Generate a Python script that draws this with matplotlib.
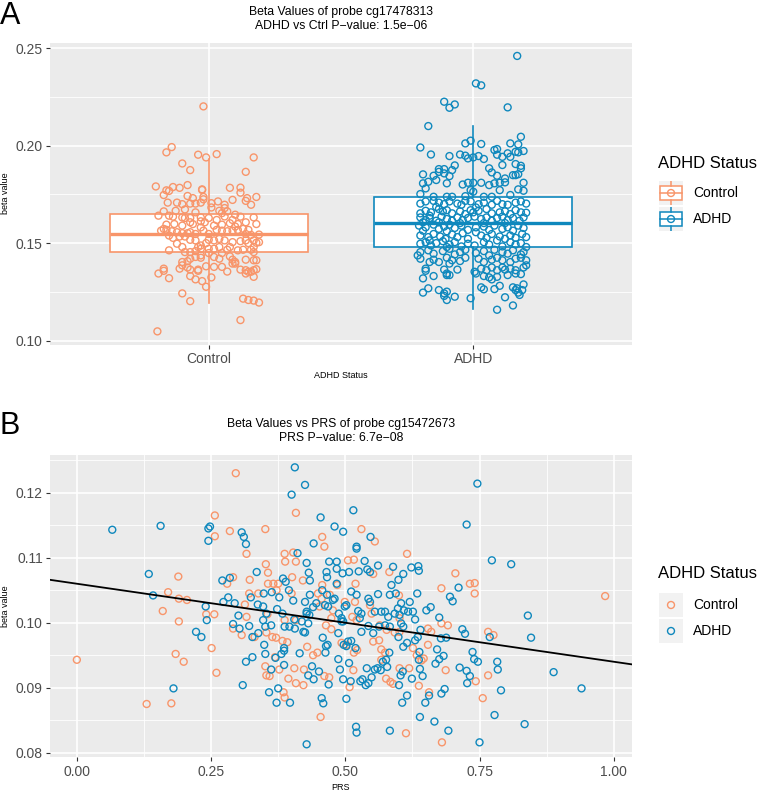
import matplotlib.pyplot as plt
import numpy as np
from matplotlib.patches import Rectangle

plt.rcParams['font.family'] = ['Liberation Sans', 'DejaVu Sans']

status = ['Control', 'ADHD']
colors = ['#F8956A', '#0F88BD']

# ---- panel A: box stats + jittered points (x = jittered group position) ----
box_q1 = [0.1454, 0.1480]
box_med = [0.1548, 0.1605]
box_q3 = [0.1650, 0.1739]
box_lo = [0.1195, 0.1161]
box_hi = [0.1930, 0.2101]

ctrl_points = [
    (0.98, 0.2202), (0.86, 0.1993), (0.84, 0.1966), (0.96, 0.1954), (0.99, 0.1940), (1.03, 0.1957),
    (1.17, 0.1940), (0.90, 0.1909), (0.93, 0.1875), (1.14, 0.1866), (0.80, 0.1791), (0.89, 0.1784),
    (0.975, 0.1776), (1.08, 0.1784),
    (1.12, 0.1785), (1.12, 0.1759), (0.975, 0.1773), (0.92, 0.1798), (0.865, 0.1788), (0.84, 0.1771),
    (0.83, 0.1747), (0.85, 0.1768), (0.92, 0.1742), (0.94, 0.1731), (0.98, 0.1737), (0.98, 0.1725),
    (1.145, 0.1731), (1.18, 0.1737), (1.16, 0.1697), (1.14, 0.1717), (1.09, 0.1722), (1.035, 0.1714),
    (1.01, 0.1705), (1.06, 0.1697), (1.06, 0.1680), (1.07, 0.1663), (1.05, 0.1654), (1.04, 0.1666),
    (1.01, 0.1683), (0.97, 0.1708), (0.95, 0.1703), (0.93, 0.1703), (0.90, 0.1700), (0.88, 0.1708),
    (0.845, 0.1708), (0.83, 0.1663), (0.81, 0.1641), (0.85, 0.1641), (0.875, 0.1666), (0.91, 0.1673),
    (0.90, 0.1632), (0.865, 0.1636), (0.91, 0.1629), (0.93, 0.1629), (0.95, 0.1658), (0.97, 0.1632),
    (1.00, 0.1629), (1.03, 0.1619), (1.06, 0.1637), (1.09, 0.1619), (1.10, 0.1646), (1.12, 0.1636),
    (1.17, 0.1632), (1.18, 0.1598), (1.14, 0.1607), (1.11, 0.1598), (1.10, 0.1585), (1.08, 0.1602),
    (1.05, 0.1595), (1.02, 0.1590), (0.985, 0.1607), (0.97, 0.1612), (0.94, 0.1598), (0.93, 0.1607),
    (0.90, 0.1590), (0.87, 0.1598), (0.84, 0.1595), (0.82, 0.1564), (0.83, 0.1573), (0.84, 0.1568),
    (0.86, 0.1561), (0.88, 0.1556), (0.90, 0.1551), (0.92, 0.1551), (0.93, 0.1556), (0.95, 0.1547),
    (0.97, 0.1581), (0.98, 0.1564), (1.00, 0.1547), (1.03, 0.1568), (1.05, 0.1564), (1.07, 0.1561),
    (1.09, 0.1564), (1.11, 0.1568), (1.13, 0.1573), (1.15, 0.1568), (1.14, 0.1547), (1.16, 0.1542),
    (1.19, 0.1544), (1.18, 0.1502), (1.19, 0.1505), (1.17, 0.1514), (1.14, 0.1514), (1.12, 0.1510),
    (1.09, 0.1505), (1.06, 0.1514), (1.04, 0.1522), (1.02, 0.1514), (1.00, 0.1517), (0.99, 0.1500),
    (0.97, 0.1488), (0.96, 0.1480), (0.95, 0.1514), (0.93, 0.1517), (0.91, 0.1534), (0.89, 0.1534),
    (0.865, 0.1527), (0.85, 0.1539), (0.88, 0.1497), (0.90, 0.1480), (0.91, 0.1454), (0.93, 0.1454),
    (0.95, 0.1459), (0.97, 0.1471), (1.00, 0.1471), (1.02, 0.1471), (1.04, 0.1480), (1.07, 0.1466),
    (1.08, 0.1480), (1.11, 0.1463), (1.13, 0.1466), (1.16, 0.1466), (1.17, 0.1454), (1.17, 0.1480),
    (1.15, 0.1500), (0.85, 0.1463), (0.90, 0.1403), (0.92, 0.1407), (0.90, 0.1386), (0.93, 0.1420),
    (0.95, 0.1429), (0.97, 0.1437), (0.97, 0.1425), (1.00, 0.1449), (1.02, 0.1429), (1.04, 0.1420),
    (1.05, 0.1449), (1.08, 0.1432), (1.09, 0.1415), (1.10, 0.1395), (1.10, 0.1403), (1.14, 0.1415),
    (1.17, 0.1412), (1.18, 0.1412), (0.89, 0.1369), (0.92, 0.1375), (0.93, 0.1364), (0.96, 0.1364),
    (0.96, 0.1358), (0.99, 0.1381), (1.02, 0.1378), (1.05, 0.1378), (1.07, 0.1354), (1.09, 0.1395),
    (1.12, 0.1364), (1.14, 0.1361), (1.15, 0.1353), (1.17, 0.1361), (1.18, 0.1366), (0.83, 0.1369),
    (0.81, 0.1344), (0.83, 0.1358), (0.85, 0.1320), (0.93, 0.1331), (0.95, 0.1314), (0.975, 0.1305),
    (0.99, 0.1276), (1.01, 0.1324), (1.14, 0.1344), (1.16, 0.1353), (1.17, 0.1327), (0.90, 0.1242),
    (0.93, 0.1202), (1.13, 0.1215), (1.15, 0.1208), (1.17, 0.1205), (1.19, 0.1195), (1.12, 0.1105),
    (0.806, 0.1047),
]

adhd_points = [
    (2.166, 0.2461), (2.01, 0.2320), (2.03, 0.2310), (1.89, 0.2226), (1.93, 0.2212), (1.91, 0.2195),
    (2.13, 0.2197), (1.83, 0.2101), (2.18, 0.2046), (1.97, 0.2012), (1.99, 0.2026), (2.03, 0.2009),
    (1.80, 0.1991), (1.84, 0.1955), (2.14, 0.2012), (2.17, 0.2007), (2.08, 0.1978), (2.09, 0.1983),
    (2.19, 0.1973), (2.17, 0.1966), (2.16, 0.1969), (2.13, 0.1961), (2.09, 0.1954), (2.11, 0.1943),
    (2.14, 0.1943), (1.91, 0.1947), (1.95, 0.1955), (1.97, 0.1949), (1.98, 0.1935), (2.00, 0.1940),
    (2.02, 0.1947), (2.04, 0.1932), (1.93, 0.1899), (2.11, 0.1901), (2.16, 0.1906), (2.18, 0.1897),
    (2.18, 0.1884), (1.87, 0.1880), (1.89, 0.1880), (1.92, 0.1875), (2.06, 0.1884), (2.07, 0.1863),
    (1.81, 0.1853), (1.85, 0.1846), (1.87, 0.1866), (1.89, 0.1858), (1.91, 0.1844), (2.09, 0.1846),
    (2.12, 0.1832), (2.15, 0.1849), (2.17, 0.1854), (2.16, 0.1849), (1.81, 0.1807), (1.83, 0.1815),
    (1.86, 0.1824), (1.90, 0.1807), (1.96, 0.1801), (1.98, 0.1810), (2.00, 0.1810), (2.03, 0.1810),
    (2.06, 0.1798), (2.08, 0.1807), (2.10, 0.1810), (2.12, 0.1812), (2.19, 0.1810), (1.82, 0.1781),
    (1.99, 0.1772), (2.00, 0.1764), (2.10, 0.1772), (2.17, 0.1776), (2.19, 0.1769), (1.80, 0.1752),
    (1.85, 0.1738), (1.90, 0.1738), (1.92, 0.1738), (1.97, 0.1741), (2.04, 0.1738), (2.07, 0.1738),
    (2.14, 0.1747),
    (1.80, 0.1703), (1.82, 0.1714), (1.85, 0.1717), (1.87, 0.1708), (1.89, 0.1700), (1.91, 0.1714),
    (1.94, 0.1703), (1.955, 0.1697), (1.97, 0.1717), (1.99, 0.1714), (2.02, 0.1700), (2.04, 0.1708),
    (2.07, 0.1697), (2.09, 0.1717), (2.11, 0.1700), (2.13, 0.1697), (2.16, 0.1708), (2.18, 0.1714),
    (2.20, 0.1703), (1.86, 0.1686), (2.01, 0.1683),
    (1.80, 0.1653), (1.82, 0.1666), (1.84, 0.1658), (1.87, 0.1675), (1.885, 0.1663), (1.90, 0.1669),
    (1.92, 0.1653), (1.95, 0.1663), (1.97, 0.1649), (1.99, 0.1669), (2.00, 0.1658), (2.02, 0.1666),
    (2.05, 0.1675), (2.07, 0.1653), (2.10, 0.1658), (2.12, 0.1663), (2.14, 0.1649), (2.16, 0.1669),
    (2.18, 0.1658), (2.20, 0.1656), (1.835, 0.1641),
    (1.80, 0.1632), (1.82, 0.1619), (1.835, 0.1629), (1.86, 0.1615), (1.88, 0.1636), (1.90, 0.1624),
    (1.92, 0.1615), (1.94, 0.1632), (1.96, 0.1619), (1.98, 0.1629), (2.005, 0.1636), (2.03, 0.1624),
    (2.05, 0.1632), (2.07, 0.1615), (2.09, 0.1629), (2.11, 0.1636), (2.13, 0.1619), (2.15, 0.1629),
    (2.175, 0.1615), (2.19, 0.1632), (1.81, 0.1607), (1.87, 0.1607), (1.95, 0.1603), (2.04, 0.1603),
    (2.12, 0.1603),
    (1.795, 0.1590), (1.82, 0.1581), (1.85, 0.1595), (1.87, 0.1573), (1.89, 0.1585), (1.91, 0.1595),
    (1.93, 0.1578), (1.955, 0.1590), (1.98, 0.1568), (2.01, 0.1581), (2.04, 0.1585), (2.06, 0.1568),
    (2.08, 0.1590), (2.11, 0.1573), (2.13, 0.1581), (2.15, 0.1564), (2.17, 0.1590), (2.19, 0.1578),
    (1.81, 0.1564), (1.90, 0.1561), (2.01, 0.1556),
    (1.80, 0.1539), (1.83, 0.1531), (1.85, 0.1547), (1.875, 0.1534), (1.895, 0.1522), (1.92, 0.1544),
    (1.94, 0.1531), (1.96, 0.1551), (1.98, 0.1522), (2.03, 0.1539), (2.05, 0.1527), (2.07, 0.1547),
    (2.10, 0.1534), (2.12, 0.1522), (2.14, 0.1539), (2.16, 0.1527), (2.185, 0.1547), (2.20, 0.1531),
    (1.835, 0.1514),
    (1.80, 0.1497), (1.82, 0.1505), (1.84, 0.1488), (1.86, 0.1500), (1.885, 0.1510), (1.91, 0.1493),
    (1.93, 0.1505), (1.955, 0.1483), (1.98, 0.1497), (2.005, 0.1488), (2.04, 0.1505), (2.06, 0.1493),
    (2.09, 0.1514), (2.11, 0.1483), (2.14, 0.1505), (2.16, 0.1493), (2.18, 0.1500), (2.20, 0.1480),
    (1.90, 0.1480),
    (1.80, 0.1454), (1.83, 0.1463), (1.85, 0.1446), (1.885, 0.1459), (1.91, 0.1471), (1.93, 0.1442),
    (1.95, 0.1454), (1.97, 0.1466), (2.01, 0.1449), (2.04, 0.1459), (2.06, 0.1437), (2.08, 0.1466),
    (2.11, 0.1454), (2.13, 0.1446), (2.15, 0.1463), (2.18, 0.1442), (2.19, 0.1454), (1.79, 0.1437),
    (1.80, 0.1420), (1.835, 0.1403), (1.85, 0.1415), (1.87, 0.1403), (1.90, 0.1425), (1.92, 0.1412),
    (1.95, 0.1408), (1.97, 0.1425), (2.02, 0.1420), (2.04, 0.1403), (2.07, 0.1415), (2.09, 0.1425),
    (2.11, 0.1412), (2.14, 0.1403), (2.16, 0.1420), (2.18, 0.1425), (2.20, 0.1412), (1.91, 0.1395),
    (1.82, 0.1369), (1.82, 0.1358), (1.89, 0.1364), (1.90, 0.1344), (1.91, 0.1336), (1.94, 0.1364),
    (2.005, 0.1353), (2.03, 0.1369), (2.05, 0.1361), (2.07, 0.1375), (2.09, 0.1361), (2.11, 0.1375),
    (2.12, 0.1364), (2.14, 0.1369), (2.16, 0.1361), (2.19, 0.1375), (2.20, 0.1386), (2.01, 0.1344),
    (1.81, 0.1319), (1.85, 0.1331), (1.90, 0.1336), (2.04, 0.1331), (2.06, 0.1324), (2.07, 0.1314),
    (2.09, 0.1327), (2.13, 0.1336), (2.16, 0.1344), (2.18, 0.1341),
    (1.81, 0.1246), (1.83, 0.1268), (1.87, 0.1259), (1.89, 0.1242), (1.90, 0.1251), (1.93, 0.1225),
    (1.89, 0.1229), (1.99, 0.1217), (2.03, 0.1273), (2.04, 0.1263), (2.08, 0.1264), (2.10, 0.1281),
    (2.16, 0.1259), (2.165, 0.1268), (2.175, 0.1234), (2.185, 0.1259), (2.19, 0.1288), (2.17, 0.1246),
    (2.15, 0.1273), (1.90, 0.1208), (2.12, 0.1222), (2.15, 0.1180), (2.09, 0.1158),
]

# ---- panel B: (PRS, beta) per group + fitted line ----
prs_ctrl = [
    (0.257, 0.1165), (0.257, 0.1133), (0.296, 0.1230), (0.285, 0.1141), (0.316, 0.1106), (0.351, 0.1144),
    (0.189, 0.1071), (0.352, 0.1090), (0.356, 0.1077), (0.280, 0.1060), (0.291, 0.1070), (0.322, 0.1066),
    (0.366, 0.1060), (0.356, 0.1060), (0.375, 0.1060), (0.387, 0.1106), (0.403, 0.1108), (0.388, 0.1094),
    (0.408, 0.1094), (0.408, 0.1169), (0.401, 0.1070),
    (0.457, 0.1132), (0.461, 0.1117), (0.530, 0.1144), (0.555, 0.1125), (0.615, 0.1106), (0.705, 0.1076),
    (0.732, 0.1060), (0.741, 0.1061), (0.679, 0.1053), (0.505, 0.1096), (0.516, 0.1097), (0.552, 0.1075),
    (0.582, 0.1078), (0.421, 0.1065), (0.457, 0.1058), (0.485, 0.1058), (0.519, 0.1060),
    (0.170, 0.1047), (0.190, 0.1037), (0.205, 0.1035), (0.160, 0.1018), (0.190, 0.1002), (0.241, 0.1013),
    (0.256, 0.1013), (0.251, 0.0961), (0.184, 0.0952), (0.199, 0.0940), (0.260, 0.0923), (0.000, 0.0943),
    (0.130, 0.0875), (0.176, 0.0876), (0.313, 0.1028), (0.321, 0.1045), (0.338, 0.1045), (0.316, 0.1009),
    (0.291, 0.0991), (0.307, 0.0981), (0.331, 0.0978), (0.355, 0.1013), (0.353, 0.0985), (0.364, 0.0978),
    (0.371, 0.0977), (0.372, 0.1050), (0.400, 0.1045), (0.408, 0.1004), (0.387, 0.1004), (0.383, 0.0972),
    (0.392, 0.0970), (0.369, 0.0947), (0.351, 0.0933), (0.353, 0.0919), (0.359, 0.0918), (0.377, 0.0928),
    (0.394, 0.0914), (0.385, 0.0893), (0.387, 0.0885), (0.405, 0.0930), (0.408, 0.0907),
    (0.454, 0.0855), (0.613, 0.0830), (0.680, 0.0816), (0.756, 0.0884), (0.766, 0.0919), (0.743, 0.0910),
    (0.687, 0.0927), (0.654, 0.0966), (0.656, 0.0893), (0.637, 0.0903), (0.646, 0.0945), (0.642, 0.0942),
    (0.619, 0.0930), (0.601, 0.0930), (0.584, 0.0909), (0.589, 0.0906), (0.576, 0.0914), (0.508, 0.0901),
    (0.515, 0.0927), (0.470, 0.0916), (0.461, 0.0918), (0.423, 0.0928), (0.422, 0.0904), (0.440, 0.0950),
    (0.448, 0.0954), (0.429, 0.0963), (0.464, 0.0996), (0.474, 0.0990), (0.493, 0.0969), (0.502, 0.0966),
    (0.516, 0.0954), (0.522, 0.0958), (0.552, 0.0971), (0.563, 0.0973), (0.567, 0.0959), (0.574, 0.0954),
    (0.567, 0.0943), (0.601, 0.0986), (0.592, 0.0985), (0.626, 0.0961), (0.633, 0.0950), (0.654, 0.0991),
    (0.660, 0.0986), (0.679, 0.0999), (0.691, 0.0996), (0.766, 0.0986), (0.776, 0.0981), (0.984, 0.1041),
    (0.741, 0.1045), (0.600, 0.1042), (0.601, 0.1007), (0.564, 0.0996), (0.577, 0.0989), (0.549, 0.1014),
    (0.546, 0.1027), (0.513, 0.1009), (0.521, 0.1004), (0.499, 0.1032), (0.518, 0.1032), (0.477, 0.1019),
    (0.474, 0.1007), (0.471, 0.1043), (0.452, 0.1025), (0.449, 0.1045), (0.456, 0.1037),
]

prs_adhd = [
    (0.066, 0.1143), (0.156, 0.1149), (0.245, 0.1145), (0.248, 0.1148), (0.245, 0.1126), (0.307, 0.1139),
    (0.311, 0.1132), (0.315, 0.1121), (0.406, 0.1239), (0.400, 0.1197), (0.134, 0.1075), (0.335, 0.1078),
    (0.271, 0.1065), (0.285, 0.1069), (0.384, 0.1068), (0.389, 0.1063), (0.411, 0.1107),
    (0.425, 0.1212), (0.454, 0.1162), (0.441, 0.1122), (0.480, 0.1148), (0.496, 0.1140), (0.515, 0.1173),
    (0.547, 0.1132), (0.521, 0.1117), (0.521, 0.1114), (0.746, 0.1214), (0.726, 0.1151), (0.773, 0.1096),
    (0.809, 0.1090), (0.711, 0.1054), (0.428, 0.1092), (0.432, 0.1077), (0.465, 0.1078), (0.470, 0.1094),
    (0.484, 0.1094), (0.484, 0.1083), (0.466, 0.1070), (0.495, 0.1076), (0.507, 0.1078), (0.536, 0.1095),
    (0.525, 0.1079), (0.541, 0.1082), (0.546, 0.1078), (0.561, 0.1088), (0.589, 0.1086), (0.608, 0.1075),
    (0.599, 0.1066), (0.623, 0.1085), (0.636, 0.1087), (0.637, 0.1080), (0.434, 0.1065), (0.484, 0.1060),
    (0.586, 0.1058),
    (0.142, 0.1042), (0.240, 0.1025), (0.242, 0.1004), (0.222, 0.0986), (0.232, 0.0978), (0.180, 0.0899),
    (0.273, 0.1032), (0.282, 0.1039), (0.294, 0.1030), (0.324, 0.1039), (0.348, 0.1045), (0.363, 0.1047),
    (0.337, 0.1028), (0.347, 0.1025), (0.301, 0.1011), (0.291, 0.0998), (0.303, 0.0991), (0.321, 0.0995),
    (0.327, 0.0978), (0.338, 0.0984), (0.353, 0.1014), (0.347, 0.1004), (0.351, 0.0994), (0.362, 0.0996),
    (0.373, 0.1021), (0.383, 0.1014), (0.377, 0.1039), (0.395, 0.1050), (0.403, 0.1034), (0.387, 0.0994),
    (0.396, 0.0994), (0.406, 0.0991), (0.405, 0.1005), (0.386, 0.0961), (0.386, 0.0957), (0.381, 0.0952),
    (0.349, 0.0966), (0.351, 0.0952), (0.370, 0.0946), (0.315, 0.0940), (0.327, 0.0947), (0.362, 0.0928),
    (0.386, 0.0935), (0.309, 0.0904), (0.358, 0.0893), (0.375, 0.0899), (0.372, 0.0877), (0.397, 0.0877),
    (0.415, 0.0953),
    (0.428, 0.0813), (0.456, 0.0884), (0.459, 0.0876), (0.502, 0.0883), (0.520, 0.0840), (0.521, 0.0831),
    (0.583, 0.0834), (0.606, 0.0877), (0.615, 0.0888), (0.639, 0.0855), (0.666, 0.0848), (0.692, 0.0834),
    (0.750, 0.0816), (0.778, 0.0858), (0.834, 0.0844), (0.940, 0.0899), (0.888, 0.0924), (0.790, 0.0896),
    (0.783, 0.0940), (0.784, 0.0928), (0.737, 0.0955), (0.740, 0.0944), (0.747, 0.0940), (0.727, 0.0907),
    (0.732, 0.0918), (0.726, 0.0926), (0.713, 0.0931), (0.668, 0.0937), (0.675, 0.0944), (0.683, 0.0949),
    (0.671, 0.0959), (0.679, 0.0891), (0.685, 0.0898), (0.656, 0.0888), (0.649, 0.0877), (0.644, 0.0918),
    (0.639, 0.0929), (0.637, 0.0943), (0.638, 0.0955), (0.624, 0.0914), (0.607, 0.0925), (0.603, 0.0919),
    (0.600, 0.0904), (0.566, 0.0927), (0.560, 0.0930), (0.555, 0.0928), (0.578, 0.0932), (0.540, 0.0930),
    (0.549, 0.0916), (0.543, 0.0907), (0.538, 0.0904), (0.532, 0.0913), (0.528, 0.0910), (0.510, 0.0910),
    (0.507, 0.0938), (0.496, 0.0913), (0.487, 0.0944), (0.490, 0.0928), (0.469, 0.0905), (0.451, 0.0925),
    (0.441, 0.0913), (0.431, 0.0919), (0.438, 0.0933), (0.463, 0.0954), (0.467, 0.0966), (0.458, 0.0977),
    (0.464, 0.0964), (0.425, 0.0985), (0.431, 0.0999), (0.428, 0.1014), (0.487, 0.0984), (0.493, 0.1002),
    (0.497, 0.0966), (0.502, 0.0964), (0.511, 0.0972), (0.505, 0.0971), (0.519, 0.0961), (0.530, 0.0986),
    (0.543, 0.0995), (0.552, 0.0984), (0.563, 0.0994), (0.582, 0.0954), (0.576, 0.0943), (0.570, 0.0940),
    (0.599, 0.0978), (0.608, 0.0963), (0.615, 0.0969), (0.630, 0.0973), (0.635, 0.0978), (0.640, 0.0989),
    (0.675, 0.1008), (0.678, 0.0976), (0.688, 0.0977), (0.718, 0.0990), (0.723, 0.0983), (0.769, 0.0978),
    (0.840, 0.1011), (0.846, 0.0977), (0.695, 0.1040), (0.700, 0.1033), (0.651, 0.1019), (0.659, 0.1024),
    (0.634, 0.1045), (0.620, 0.1032), (0.617, 0.1017), (0.604, 0.1030), (0.598, 0.1022), (0.609, 0.1019),
    (0.592, 0.1014), (0.601, 0.1012), (0.604, 0.0999), (0.608, 0.0994), (0.626, 0.1017), (0.630, 0.1005),
    (0.594, 0.1045), (0.583, 0.1043), (0.567, 0.1017), (0.574, 0.1017), (0.580, 0.1009), (0.574, 0.0996),
    (0.583, 0.0994), (0.555, 0.1017), (0.546, 0.1032), (0.543, 0.1037), (0.561, 0.1044), (0.524, 0.1018),
    (0.530, 0.1014), (0.527, 0.1007), (0.511, 0.1048), (0.521, 0.1043), (0.499, 0.1025), (0.502, 0.1027),
    (0.488, 0.1014), (0.493, 0.1007), (0.496, 0.1002), (0.480, 0.1037), (0.468, 0.1025), (0.462, 0.1027),
    (0.446, 0.1030), (0.440, 0.1024), (0.428, 0.1017), (0.433, 0.1012), (0.457, 0.1050), (0.466, 0.1043),
    (0.477, 0.1035), (0.422, 0.0986), (0.419, 0.1002), (0.425, 0.1032), (0.434, 0.1043),
]

fit_intercept = 0.1060
fit_slope = -0.0120

W, H = 759, 791
fig = plt.figure(figsize=(W / 100, H / 100), dpi=100)


def px_rect(l, t, r, b):
    return [l / W, 1 - b / H, (r - l) / W, (b - t) / H]


def px_text(x, y, s, **kw):
    fig.text(x / W, 1 - y / H, s, **kw)


def style(ax):
    ax.set_facecolor('#EBEBEB')
    for sp in ax.spines.values():
        sp.set_visible(False)
    ax.set_axisbelow(True)
    ax.grid(which='major', color='white', lw=1.2)
    ax.grid(which='minor', color='white', lw=0.6)
    ax.tick_params(which='major', direction='out', length=3.2, width=0.8, color='#333333',
                   labelcolor='#4D4D4D', labelsize=10, pad=2)
    ax.tick_params(which='minor', length=0)


pt_style = dict(s=25, facecolors='none', linewidths=1.0, zorder=3)

# ---------------- panel A ----------------
axA = fig.add_axes(px_rect(50, 42.7, 632, 345))
style(axA)
for i in range(2):
    st = dict(med=box_med[i], q1=box_q1[i], q3=box_q3[i], whislo=box_lo[i], whishi=box_hi[i], fliers=[])
    axA.bxp([st], positions=[i + 1], widths=0.75, patch_artist=True, showcaps=False,
            showfliers=False, manage_ticks=False,
            boxprops=dict(facecolor='white', edgecolor=colors[i], linewidth=1.2),
            medianprops=dict(color=colors[i], linewidth=2.4),
            whiskerprops=dict(color=colors[i], linewidth=1.2))
for pts, c in [(ctrl_points, colors[0]), (adhd_points, colors[1])]:
    arr = np.array(pts)
    axA.scatter(arr[:, 0], arr[:, 1], edgecolors=c, **pt_style)
axA.set_xlim(0.4, 2.6)
axA.set_ylim(0.0977, 0.2529)
axA.set_xticks([1, 2])
axA.set_xticklabels(status)
axA.set_yticks([0.10, 0.15, 0.20, 0.25])
axA.set_yticklabels(['0.10', '0.15', '0.20', '0.25'])
axA.set_yticks([0.125, 0.175, 0.225], minor=True)

# ---------------- panel B ----------------
axB = fig.add_axes(px_rect(50, 455, 632, 757.3))
style(axB)
for pts, c in [(prs_ctrl, colors[0]), (prs_adhd, colors[1])]:
    arr = np.array(pts)
    axB.scatter(arr[:, 0], arr[:, 1], edgecolors=c, **pt_style)
axB.axline((0, fit_intercept), slope=fit_slope, color='black', lw=1.3, zorder=4)
axB.set_xlim(-0.050, 1.034)
axB.set_ylim(0.0793, 0.1258)
axB.set_xticks([0, 0.25, 0.5, 0.75, 1.0])
axB.set_xticklabels(['0.00', '0.25', '0.50', '0.75', '1.00'])
axB.set_xticks([0.125, 0.375, 0.625, 0.875], minor=True)
axB.set_yticks([0.08, 0.09, 0.10, 0.11, 0.12])
axB.set_yticklabels(['0.08', '0.09', '0.10', '0.11', '0.12'])
axB.set_yticks([0.085, 0.095, 0.105, 0.115, 0.125], minor=True)

# ---------------- titles and labels ----------------
px_text(0, 23.5, 'A', fontsize=22, va='baseline', ha='left')
px_text(0, 434, 'B', fontsize=22, va='baseline', ha='left')
px_text(341, 12.5, 'Beta Values of probe cg17478313', fontsize=8.8, ha='center', va='center')
px_text(341, 25.7, 'ADHD vs Ctrl P\u2212value: 1.5e\u221206', fontsize=8.8, ha='center', va='center')
px_text(341, 424, 'Beta Values vs PRS of probe cg15472673', fontsize=8.8, ha='center', va='center')
px_text(341, 437.7, 'PRS P\u2212value: 6.7e\u221208', fontsize=8.8, ha='center', va='center')
px_text(341, 375, 'ADHD Status', fontsize=6.5, ha='center', va='center')
px_text(341, 787, 'PRS', fontsize=6.5, ha='center', va='center')
px_text(6, 193.5, 'beta value', fontsize=6.5, ha='center', va='center', rotation=90)
px_text(6, 606, 'beta value', fontsize=6.5, ha='center', va='center', rotation=90)


# ---------------- legends ----------------
def key_axes(top):
    k = fig.add_axes(px_rect(659, top, 683, top + 24))
    k.set_xlim(0, 1)
    k.set_ylim(0, 1)
    k.axis('off')
    k.add_patch(Rectangle((0, 0), 1, 1, facecolor='#F2F2F2', edgecolor='none'))
    return k


for top_title, tops, boxed in [(163, (181, 207), True), (573, (593, 619), False)]:
    px_text(658, top_title, 'ADHD Status', fontsize=12, ha='left', va='center')
    for j, top in enumerate(tops):
        k = key_axes(top)
        c = colors[j]
        if boxed:
            k.plot([0.5, 0.5], [0, 0.21], color=c, lw=1.1)
            k.plot([0.5, 0.5], [0.79, 1], color=c, lw=1.1)
            k.add_patch(Rectangle((0.06, 0.21), 0.88, 0.58, facecolor='white', edgecolor=c, lw=1.1))
            k.plot([0.06, 0.94], [0.5, 0.5], color=c, lw=1.1)
        k.scatter([0.5], [0.5], edgecolors=c, **pt_style)
        px_text(693, top + 12, status[j], fontsize=10, ha='left', va='center')

fig.savefig('out.png', dpi=100)
